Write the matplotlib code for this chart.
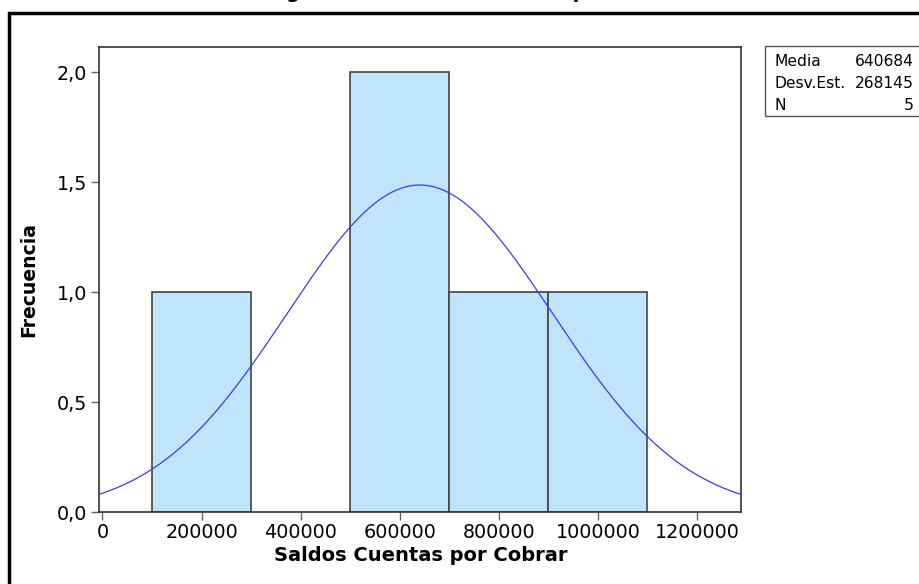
import numpy as np
import matplotlib
matplotlib.use("Agg")
import matplotlib.pyplot as plt
from matplotlib.patches import Rectangle
from matplotlib.ticker import FuncFormatter

# Data
bin_edges = [100000, 300000, 500000, 700000, 900000, 1100000]
counts = [1, 0, 2, 1, 1]
media = 640684
desv_est = 268145
n_obs = 5
x_ticks = [0, 200000, 400000, 600000, 800000, 1000000, 1200000]
y_ticks = [0.0, 0.5, 1.0, 1.5, 2.0]

W, H = 920, 584
fig = plt.figure(figsize=(W / 100, H / 100), dpi=100)
plt.rcParams['font.family'] = ['DejaVu Sans']

def fx(px):
    return px / W

def fy(py):
    return 1 - py / H

# outer frame (cut off at right and bottom)
fig.patches.append(Rectangle((fx(8.5), fy(H + 20)), fx(W + 20), (H + 20 - 12.5) / H,
                             transform=fig.transFigure, fill=False,
                             edgecolor='black', linewidth=2.5))

# title (almost entirely above the visible area, as in the reference)
fig.text(0.5, 1 + 1.5 / H, "Histograma de Saldos Cuentas por Cobrar", ha='center',
         va='baseline', fontsize=14, fontweight='bold', color='black')

ax_l, ax_r, ax_t, ax_b = 99.5, 741.5, 46.5, 512
ax = fig.add_axes([fx(ax_l), fy(ax_b), fx(ax_r - ax_l), (ax_b - ax_t) / H])

widths = np.diff(bin_edges)
lefts = np.array(bin_edges[:-1])
for l, w, c in zip(lefts, widths, counts):
    if c > 0:
        ax.bar(l, c, width=w, align='edge', color='#BFE4FC', edgecolor='#444444',
               linewidth=1.2, zorder=2)

xs = np.linspace(-10000, 1300000, 600)
bw = widths[0]
ys = n_obs * bw / (desv_est * np.sqrt(2 * np.pi)) * np.exp(-0.5 * ((xs - media) / desv_est) ** 2)
ax.plot(xs, ys, color='#3A3AF5', linewidth=0.9, zorder=3)

ax.set_xlim(-6000, 1290000)
ax.set_ylim(0, 2.118)
ax.set_xticks(x_ticks)
ax.set_yticks(y_ticks)
ax.xaxis.set_major_formatter(FuncFormatter(lambda v, p: f"{int(round(v))}"))
ax.yaxis.set_major_formatter(FuncFormatter(lambda v, p: f"{v:.1f}".replace('.', ',')))
ax.tick_params(axis='both', labelsize=13.8, length=6, width=1, color='#666666')
ax.tick_params(axis='x', pad=2)
ax.tick_params(axis='y', pad=3)
for s in ax.spines.values():
    s.set_color('#333333')
    s.set_linewidth(1.2)

ax.set_xlabel("Saldos Cuentas por Cobrar", fontsize=14, fontweight='bold', labelpad=3)
ax.set_ylabel("Frecuencia", fontsize=13.6, fontweight='bold', labelpad=13)

# stats box
bx_l, bx_t, bx_b = 765, 45.5, 116
fig.patches.append(Rectangle((fx(bx_l), fy(bx_b)), fx(W + 10 - bx_l), (bx_b - bx_t) / H,
                             transform=fig.transFigure, fill=True, facecolor='white',
                             edgecolor='#555555', linewidth=1))
rows = [("Media", f"{media}"), ("Desv.Est.", f"{desv_est}"), ("N", f"{n_obs}")]
for i, (k, v) in enumerate(rows):
    yy = 62 + i * 21.5
    fig.text(fx(775), fy(yy), k, ha='left', va='center', fontsize=11.2, color='black')
    fig.text(fx(914), fy(yy), v, ha='right', va='center', fontsize=11.2, color='black')

fig.savefig("out.png", dpi=100, facecolor='white')
